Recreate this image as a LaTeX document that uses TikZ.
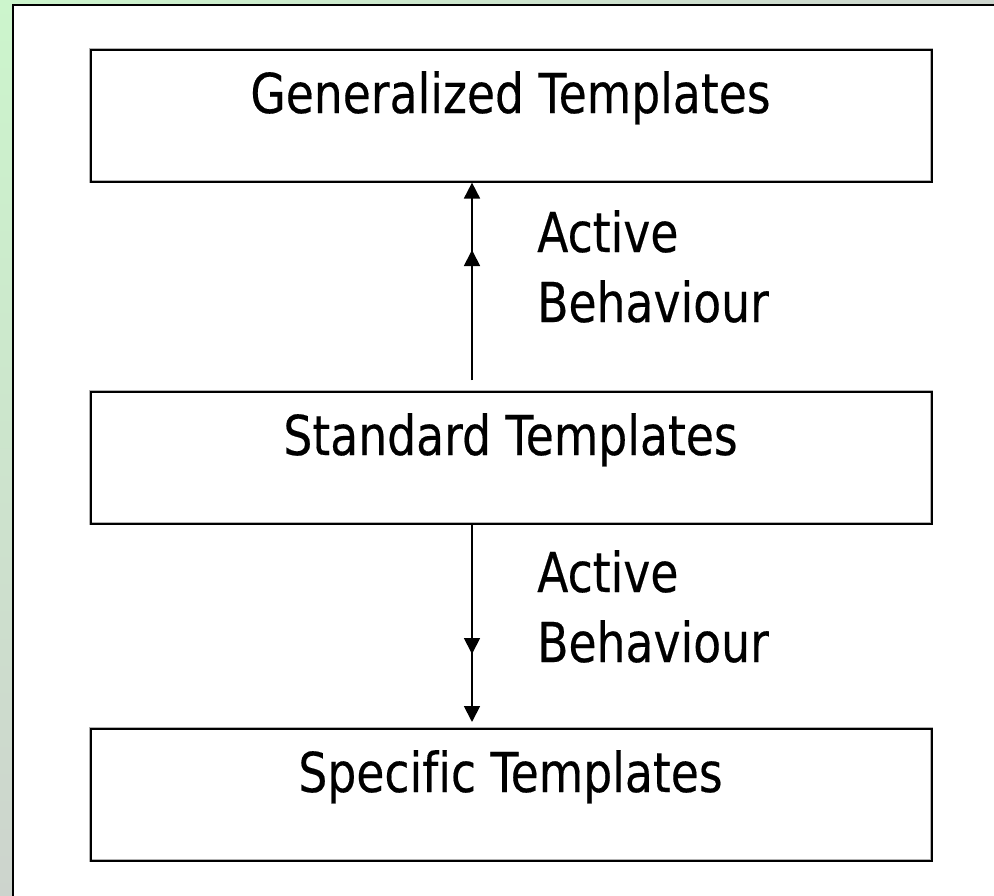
\documentclass[tikz,border=0pt]{standalone}
\usepackage{fontspec}
\setmainfont[FakeStretch=0.83, Ligatures=NoCommon, FakeBold=0.3]{DejaVu Sans}
\usetikzlibrary{arrows.meta}
\definecolor{bggreen}{RGB}{204,245,204}
\definecolor{bgmid}{RGB}{205,232,205}
\definecolor{bggray}{RGB}{205,212,205}
\begin{document}
\begin{tikzpicture}[x=1bp,y=-1bp,
  tbox/.style={draw=black, line width=1.6bp, minimum width=841bp, minimum height=132bp,
    inner sep=0pt, anchor=north west,
    preaction={draw=black!30, line width=3bp}},
  lbl/.style={inner sep=0pt, font=\fontsize{55bp}{70bp}\selectfont},
  conn/.style={draw=black, line width=1.8bp, -{Triangle[length=16bp,width=16bp]}}]
\useasboundingbox (0,0) rectangle (994,896);
\clip (0,0) rectangle (994,896);
% background
\shade[top color=bggreen, middle color=bgmid, bottom color=bggray] (0,0) rectangle (994,896);
\shade[left color=bggreen, right color=bggray] (0,0) rectangle (994,5);
\draw[fill=white, line width=2bp] (13,5) rectangle (1010,912);
% boxes
\node[tbox] (gen) at (90,49) {};
\node[tbox] (std) at (90,391) {};
\node[tbox] (spe) at (90,728) {};
% box labels
\node[lbl, anchor=base] (gent) at (510.5,113) {Generalized Templates};
\node[lbl, anchor=base] (stdt) at (510.5,455) {Standard Templates};
\node[lbl, anchor=base] (spet) at (510.5,792) {Specific Templates};
% arrow labels
\node[lbl, anchor=base west] (act1) at (537,252) {Active};
\node[lbl, anchor=base west] (beh1) at (537,322) {Behaviour};
\node[lbl, anchor=base west] (act2) at (537,592) {Active};
\node[lbl, anchor=base west] (beh2) at (537,662) {Behaviour};
% connectors
\coordinate (a1s) at (472,380);
\coordinate (a1m) at (472,250);
\coordinate (a2s) at (472,524);
\coordinate (a2m) at (472,654);
\coordinate (a2e) at (472,722);
\draw[conn] (a1s) -- (gen.south -| a1s);
\draw[conn] (a1s) -- (a1m);
\draw[conn] (std.south -| a2s) -- (a2e);
\draw[conn] (std.south -| a2s) -- (a2m);
\end{tikzpicture}
\end{document}
